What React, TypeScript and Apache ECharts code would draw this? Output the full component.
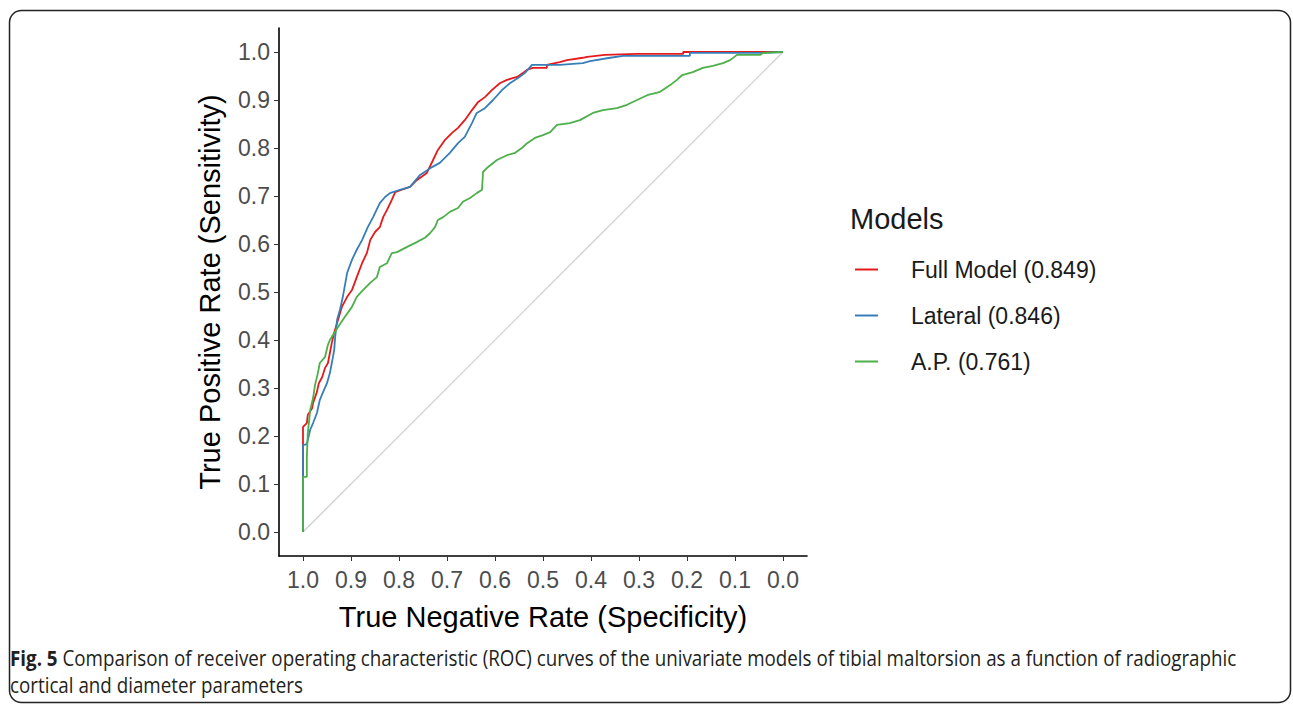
import React, { useEffect, useRef } from "react";
import * as echarts from "echarts";

// ---------- data ----------
const tickValues = [0, 0.1, 0.2, 0.3, 0.4, 0.5, 0.6, 0.7, 0.8, 0.9, 1.0];
const modelNames = ["Full Model (0.849)", "Lateral (0.846)", "A.P. (0.761)"];
const modelColors = ["#e41a1c", "#377eb8", "#4daf4a"];
const legendTitle = "Models";
const xTitle = "True Negative Rate (Specificity)";
const yTitle = "True Positive Rate (Sensitivity)";
const captionBold = "Fig. 5";
const captionLine1 =
  " Comparison of receiver operating characteristic (ROC) curves of the univariate models of tibial maltorsion as a function of radiographic";
const captionLine2 = "cortical and diameter parameters";

const fullSpec = [
  1.0, 1.0, 0.992, 0.99, 0.981, 0.979, 0.971, 0.967, 0.96, 0.954, 0.948, 0.944, 0.94, 0.935, 0.919, 0.908,
  0.898, 0.888, 0.877, 0.867, 0.86, 0.85, 0.84, 0.833, 0.825, 0.815, 0.808, 0.794, 0.777, 0.763, 0.742,
  0.729, 0.719, 0.704, 0.69, 0.677, 0.663, 0.648, 0.635, 0.621, 0.606, 0.59, 0.575, 0.554, 0.542, 0.533,
  0.521, 0.492, 0.492, 0.465, 0.45, 0.417, 0.408, 0.371, 0.304, 0.208, 0.208, 0.0,
];
const fullSens = [
  0.0, 0.219, 0.227, 0.244, 0.258, 0.269, 0.292, 0.31, 0.323, 0.342, 0.352, 0.373, 0.394, 0.415, 0.469, 0.49,
  0.504, 0.531, 0.56, 0.581, 0.608, 0.625, 0.635, 0.656, 0.671, 0.692, 0.708, 0.713, 0.719, 0.733, 0.748,
  0.775, 0.796, 0.817, 0.831, 0.842, 0.858, 0.879, 0.896, 0.906, 0.921, 0.935, 0.942, 0.948, 0.956, 0.963,
  0.967, 0.967, 0.973, 0.979, 0.983, 0.988, 0.99, 0.994, 0.996, 0.996, 1.0, 1.0,
];

const latSpec = [
  1.0, 1.0, 0.992, 0.985, 0.979, 0.971, 0.965, 0.958, 0.95, 0.944, 0.94, 0.935, 0.933, 0.929, 0.923, 0.917,
  0.908, 0.898, 0.888, 0.877, 0.865, 0.854, 0.84, 0.829, 0.819, 0.798, 0.777, 0.756, 0.735, 0.715, 0.694,
  0.677, 0.663, 0.648, 0.638, 0.621, 0.604, 0.585, 0.569, 0.552, 0.538, 0.523, 0.465, 0.417, 0.402, 0.36,
  0.333, 0.194, 0.194, 0.048, 0.0,
];
const latSens = [
  0.0, 0.181, 0.183, 0.213, 0.227, 0.248, 0.275, 0.292, 0.31, 0.331, 0.352, 0.379, 0.406, 0.442, 0.463, 0.49,
  0.54, 0.567, 0.588, 0.608, 0.635, 0.656, 0.685, 0.698, 0.706, 0.713, 0.719, 0.744, 0.758, 0.769, 0.79,
  0.81, 0.823, 0.852, 0.873, 0.883, 0.9, 0.921, 0.935, 0.946, 0.956, 0.973, 0.973, 0.977, 0.981, 0.988,
  0.992, 0.992, 0.998, 0.998, 1.0,
];

const apSpec = [
  1.0, 1.0, 0.992, 0.992, 0.99, 0.985, 0.979, 0.975, 0.969, 0.965, 0.954, 0.948, 0.944, 0.927, 0.913, 0.898,
  0.888, 0.875, 0.86, 0.846, 0.84, 0.825, 0.815, 0.804, 0.783, 0.763, 0.746, 0.735, 0.725, 0.719, 0.708,
  0.694, 0.677, 0.667, 0.652, 0.638, 0.627, 0.625, 0.615, 0.596, 0.575, 0.558, 0.544, 0.533, 0.517, 0.5,
  0.485, 0.471, 0.444, 0.423, 0.396, 0.375, 0.346, 0.325, 0.304, 0.283, 0.256, 0.235, 0.221, 0.21, 0.188,
  0.167, 0.146, 0.125, 0.11, 0.096, 0.048, 0.042, 0.0,
];
const apSens = [
  0.0, 0.115, 0.115, 0.156, 0.206, 0.254, 0.279, 0.306, 0.331, 0.352, 0.365, 0.39, 0.4, 0.427, 0.448, 0.469,
  0.49, 0.504, 0.519, 0.531, 0.552, 0.56, 0.581, 0.583, 0.594, 0.604, 0.613, 0.623, 0.635, 0.65, 0.656,
  0.667, 0.675, 0.688, 0.696, 0.706, 0.713, 0.75, 0.76, 0.775, 0.785, 0.79, 0.8, 0.81, 0.821, 0.827,
  0.833, 0.848, 0.852, 0.858, 0.873, 0.879, 0.883, 0.89, 0.9, 0.91, 0.917, 0.931, 0.942, 0.952, 0.958,
  0.967, 0.971, 0.977, 0.983, 0.994, 0.994, 0.998, 1.0,
];

const diagSpec = [1.0, 0.0];
const diagSens = [0.0, 1.0];

const zip = (a: number[], b: number[]) => a.map((v, i) => [v, b[i]]);

const PLOT_FONT = "'Liberation Sans', Arial, Helvetica, sans-serif";
const CAP_FONT = "'Open Sans', 'Noto Sans', sans-serif";

export default function App() {
  const ref = useRef<HTMLDivElement>(null);

  useEffect(() => {
    if (!ref.current) return;
    const chart = echarts.init(ref.current, null, { renderer: "svg" });

    // measure caption to compress it to the condensed width of the original
    const capSize = 22;
    const ctx = document.createElement("canvas").getContext("2d")!;
    ctx.font = `bold ${capSize}px 'Open Sans'`;
    const wb = ctx.measureText(captionBold).width;
    ctx.font = `${capSize}px 'Open Sans'`;
    const wr = ctx.measureText(captionLine1).width;
    const capScale = 1228 / (wb + wr);

    const lineSeries = (name: string, data: number[][], color: string) => ({
      name,
      type: "line",
      data,
      showSymbol: false,
      symbol: "none",
      silent: true,
      lineStyle: { color, width: 1.8 },
      itemStyle: { color },
      z: 3,
    });

    chart.setOption({
      animation: false,
      backgroundColor: "#ffffff",
      grid: { left: 279, top: 28, width: 528, height: 528, containLabel: false },
      xAxis: {
        type: "value",
        min: -0.05,
        max: 1.05,
        inverse: true,
        name: xTitle,
        nameLocation: "middle",
        nameGap: 46,
        nameTextStyle: { fontSize: 29, color: "#000000", fontFamily: PLOT_FONT },
        axisLine: { show: true, onZero: false, lineStyle: { color: "#000000", width: 1.6 } },
        axisTick: { show: true, length: 5, lineStyle: { color: "#333333", width: 1 }, customValues: tickValues },
        axisLabel: {
          customValues: tickValues,
          formatter: (v: number) => v.toFixed(1),
          fontSize: 23,
          color: "#4d4d4d",
          fontFamily: PLOT_FONT,
          margin: 12,
        },
        splitLine: { show: false },
      },
      yAxis: {
        type: "value",
        min: -0.05,
        max: 1.05,
        name: yTitle,
        nameLocation: "middle",
        nameGap: 55,
        nameRotate: 90,
        nameTextStyle: { fontSize: 29, color: "#000000", fontFamily: PLOT_FONT },
        axisLine: { show: true, onZero: false, lineStyle: { color: "#000000", width: 1.6 } },
        axisTick: { show: true, length: 5, lineStyle: { color: "#333333", width: 1 }, customValues: tickValues },
        axisLabel: {
          customValues: tickValues,
          formatter: (v: number) => v.toFixed(1),
          fontSize: 23,
          color: "#4d4d4d",
          fontFamily: PLOT_FONT,
          margin: 9,
        },
        splitLine: { show: false },
      },
      legend: {
        data: modelNames,
        orient: "vertical",
        left: 855,
        top: 258,
        padding: 0,
        icon: "rect",
        itemWidth: 23,
        itemHeight: 2,
        itemGap: 23,
        selectedMode: false,
        textStyle: {
          fontSize: 23,
          lineHeight: 23,
          color: "#1a1a1a",
          fontFamily: PLOT_FONT,
          padding: [0, 0, 0, 28],
        },
      },
      series: [
        {
          name: "diag",
          type: "line",
          data: zip(diagSpec, diagSens),
          showSymbol: false,
          symbol: "none",
          silent: true,
          lineStyle: { color: "#cccccc", width: 1.2 },
          z: 2,
        },
        lineSeries(modelNames[0], zip(fullSpec, fullSens), modelColors[0]),
        lineSeries(modelNames[1], zip(latSpec, latSens), modelColors[1]),
        lineSeries(modelNames[2], zip(apSpec, apSens), modelColors[2]),
      ],
      graphic: [
        {
          type: "rect",
          shape: { x: 9.5, y: 10.5, width: 1281, height: 692, r: 12 },
          style: { fill: "none", stroke: "#222222", lineWidth: 1.5 },
          silent: true,
        },
        {
          type: "text",
          left: 850,
          top: 204,
          style: { text: legendTitle, fontSize: 29, fill: "#1a1a1a", fontFamily: PLOT_FONT },
        },
        {
          type: "group",
          x: 10,
          y: 0,
          scaleX: capScale,
          children: [
            {
              type: "text",
              x: 0,
              y: 657,
              style: {
                text: `{b|${captionBold}}{r|${captionLine1}}`,
                verticalAlign: "middle",
                rich: {
                  b: { fontSize: capSize, fontWeight: "bold", fill: "#231f20", fontFamily: CAP_FONT },
                  r: { fontSize: capSize, fill: "#231f20", fontFamily: CAP_FONT },
                },
              },
            },
            {
              type: "text",
              x: 0,
              y: 684,
              style: {
                text: captionLine2,
                verticalAlign: "middle",
                fontSize: capSize,
                fill: "#231f20",
                fontFamily: CAP_FONT,
              },
            },
          ],
        },
      ],
    });

    return () => chart.dispose();
  }, []);

  return (
    <div
      ref={ref}
      style={{ position: "absolute", left: 0, top: 0, width: 1293, height: 704, background: "#fff" }}
    />
  );
}
